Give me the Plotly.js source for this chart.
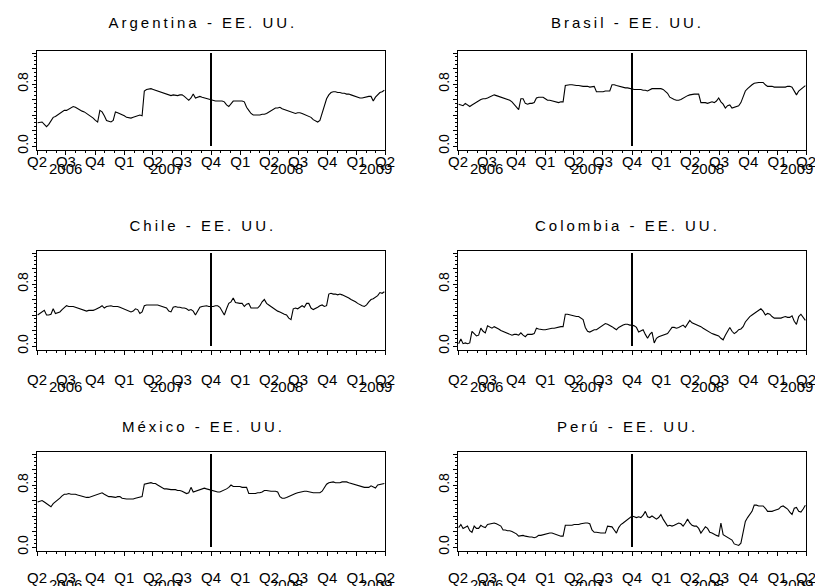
<!DOCTYPE html>
<html><head><meta charset="utf-8">
<script src="https://cdn.plot.ly/plotly-3.0.1.min.js"></script>
<style>html,body{margin:0;padding:0;background:#fff}#chart{width:815px;height:586px}</style>
</head><body><div id="chart"></div>
<script>
// ---------- DATA ----------
const dates = ["2006-04-03","2006-04-10","2006-04-17","2006-04-24","2006-05-01","2006-05-08","2006-05-15","2006-05-22","2006-05-29","2006-06-05","2006-06-12","2006-06-19","2006-06-26","2006-07-03","2006-07-10","2006-07-17","2006-07-24","2006-07-31","2006-08-07","2006-08-14","2006-08-21","2006-08-28","2006-09-04","2006-09-11","2006-09-18","2006-09-25","2006-10-02","2006-10-09","2006-10-16","2006-10-23","2006-10-30","2006-11-06","2006-11-13","2006-11-20","2006-11-27","2006-12-04","2006-12-11","2006-12-18","2006-12-25",
"2007-01-01","2007-01-08","2007-01-15","2007-01-22","2007-01-29","2007-02-05","2007-02-12","2007-02-19","2007-02-26","2007-03-05","2007-03-12","2007-03-19","2007-03-26","2007-04-02","2007-04-09","2007-04-16","2007-04-23","2007-04-30","2007-05-07","2007-05-14","2007-05-21","2007-05-28","2007-06-04","2007-06-11","2007-06-18","2007-06-25","2007-07-02","2007-07-09","2007-07-16","2007-07-23","2007-07-30","2007-08-06","2007-08-13","2007-08-20","2007-08-27","2007-09-03","2007-09-10","2007-09-17","2007-09-24","2007-10-01","2007-10-08","2007-10-15","2007-10-22","2007-10-29","2007-11-05","2007-11-12","2007-11-19","2007-11-26","2007-12-03","2007-12-10","2007-12-17","2007-12-24","2007-12-31",
"2008-01-07","2008-01-14","2008-01-21","2008-01-28","2008-02-04","2008-02-11","2008-02-18","2008-02-25","2008-03-03","2008-03-10","2008-03-17","2008-03-24","2008-03-31","2008-04-07","2008-04-14","2008-04-21","2008-04-28","2008-05-05","2008-05-12","2008-05-19","2008-05-26","2008-06-02","2008-06-09","2008-06-16","2008-06-23","2008-06-30","2008-07-07","2008-07-14","2008-07-21","2008-07-28","2008-08-04","2008-08-11","2008-08-18","2008-08-25","2008-09-01","2008-09-08","2008-09-15","2008-09-22","2008-09-29","2008-10-06","2008-10-13","2008-10-20","2008-10-27","2008-11-03","2008-11-10","2008-11-17","2008-11-24","2008-12-01","2008-12-08","2008-12-15","2008-12-22","2008-12-29",
"2009-01-05","2009-01-12","2009-01-19","2009-01-26","2009-02-02","2009-02-09","2009-02-16","2009-02-23","2009-03-02","2009-03-09","2009-03-16","2009-03-23","2009-03-30"];

const argentina = [0.30,0.31,0.31,0.28,0.25,0.28,0.33,0.37,0.38,0.40,0.42,0.44,0.46,
0.46,0.48,0.49,0.51,0.50,0.48,0.46,0.45,0.44,0.42,0.41,0.38,0.36,
0.33,0.31,0.46,0.44,0.39,0.33,0.32,0.31,0.33,0.44,0.43,0.42,0.40,
0.39,0.37,0.36,0.36,0.37,0.38,0.39,0.40,0.39,0.71,0.73,0.74,0.74,
0.73,0.72,0.71,0.70,0.69,0.68,0.67,0.66,0.65,0.66,0.65,0.65,0.66,
0.66,0.64,0.61,0.59,0.62,0.67,0.62,0.63,0.64,0.63,0.62,0.62,0.61,
0.60,0.59,0.58,0.58,0.58,0.58,0.57,0.53,0.51,0.55,0.58,0.58,0.58,
0.58,0.58,0.57,0.50,0.46,0.42,0.40,0.40,0.40,0.40,0.41,0.41,0.42,
0.44,0.46,0.48,0.49,0.49,0.50,0.48,0.47,0.46,0.45,0.44,0.43,0.42,
0.43,0.43,0.42,0.41,0.40,0.39,0.37,0.34,0.32,0.31,0.33,0.42,0.52,
0.61,0.66,0.69,0.70,0.70,0.69,0.69,0.68,0.68,0.67,0.67,0.66,0.65,
0.64,0.63,0.62,0.62,0.63,0.63,0.64,0.64,0.58,0.63,0.66,0.69,0.70,0.72];

const brasil = [0.54,0.53,0.52,0.55,0.53,0.51,0.53,0.55,0.56,0.58,0.60,0.61,0.61,
0.62,0.63,0.64,0.66,0.65,0.64,0.64,0.63,0.62,0.60,0.59,0.57,0.54,
0.50,0.47,0.61,0.61,0.55,0.54,0.55,0.55,0.56,0.62,0.63,0.63,0.63,
0.61,0.59,0.59,0.58,0.57,0.56,0.56,0.57,0.57,0.78,0.79,0.79,0.79,
0.78,0.78,0.78,0.77,0.77,0.77,0.77,0.76,0.77,0.77,0.70,0.70,0.70,
0.70,0.71,0.71,0.71,0.79,0.79,0.78,0.77,0.77,0.76,0.75,0.75,0.74,
0.73,0.73,0.73,0.73,0.73,0.72,0.72,0.71,0.73,0.74,0.74,0.74,0.74,
0.74,0.73,0.71,0.68,0.63,0.61,0.60,0.59,0.59,0.60,0.62,0.64,0.65,
0.66,0.67,0.67,0.67,0.67,0.56,0.56,0.56,0.55,0.56,0.57,0.56,0.58,
0.62,0.57,0.54,0.49,0.52,0.53,0.49,0.50,0.51,0.52,0.56,0.64,0.71,
0.74,0.77,0.79,0.81,0.82,0.82,0.82,0.82,0.79,0.77,0.77,0.77,0.76,
0.76,0.76,0.76,0.76,0.76,0.77,0.77,0.76,0.70,0.66,0.71,0.73,0.76,0.78];

const chile = [0.40,0.42,0.44,0.46,0.40,0.40,0.41,0.48,0.42,0.43,0.44,0.47,0.50,
0.52,0.51,0.51,0.51,0.50,0.49,0.48,0.47,0.46,0.45,0.46,0.46,0.46,
0.47,0.48,0.50,0.52,0.49,0.51,0.52,0.52,0.51,0.51,0.51,0.50,0.49,
0.48,0.47,0.46,0.44,0.45,0.48,0.47,0.42,0.44,0.52,0.53,0.53,0.53,
0.53,0.53,0.53,0.52,0.51,0.50,0.49,0.45,0.44,0.50,0.51,0.50,0.50,
0.49,0.49,0.48,0.46,0.47,0.45,0.40,0.46,0.50,0.51,0.52,0.52,0.51,
0.51,0.51,0.52,0.52,0.50,0.44,0.40,0.48,0.55,0.57,0.62,0.56,0.55,
0.55,0.55,0.51,0.54,0.55,0.49,0.49,0.49,0.49,0.52,0.57,0.60,0.55,
0.53,0.51,0.49,0.46,0.45,0.44,0.42,0.41,0.40,0.36,0.34,0.48,0.49,
0.48,0.50,0.52,0.50,0.55,0.55,0.49,0.47,0.48,0.50,0.52,0.53,0.51,
0.52,0.67,0.68,0.67,0.67,0.66,0.67,0.66,0.65,0.63,0.62,0.60,0.59,
0.57,0.55,0.53,0.52,0.51,0.53,0.57,0.60,0.61,0.63,0.65,0.69,0.68,0.70];

const colombia = [0.03,0.09,0.03,0.04,0.03,0.04,0.19,0.16,0.13,0.14,0.23,0.19,0.17,
0.26,0.24,0.23,0.25,0.24,0.22,0.20,0.19,0.18,0.17,0.15,0.14,0.15,
0.15,0.14,0.17,0.14,0.12,0.15,0.15,0.15,0.16,0.23,0.22,0.21,0.21,
0.21,0.22,0.22,0.23,0.23,0.24,0.24,0.25,0.25,0.41,0.41,0.40,0.40,
0.39,0.38,0.38,0.36,0.34,0.24,0.19,0.18,0.20,0.21,0.21,0.23,0.25,
0.27,0.29,0.28,0.27,0.25,0.23,0.21,0.24,0.26,0.27,0.28,0.28,0.27,
0.27,0.26,0.24,0.18,0.20,0.21,0.15,0.10,0.15,0.18,0.04,0.10,0.12,
0.13,0.14,0.15,0.16,0.20,0.24,0.24,0.23,0.24,0.26,0.27,0.24,0.28,
0.33,0.30,0.29,0.28,0.27,0.25,0.23,0.21,0.19,0.17,0.16,0.15,0.14,
0.13,0.10,0.08,0.14,0.20,0.24,0.19,0.16,0.18,0.21,0.22,0.25,0.31,
0.35,0.38,0.40,0.42,0.44,0.46,0.48,0.45,0.40,0.42,0.41,0.38,0.36,
0.36,0.36,0.36,0.37,0.38,0.37,0.37,0.39,0.32,0.28,0.38,0.41,0.37,0.33];

const mexico = [0.58,0.59,0.60,0.58,0.56,0.53,0.52,0.56,0.58,0.61,0.63,0.66,0.68,
0.68,0.69,0.68,0.68,0.68,0.67,0.66,0.66,0.65,0.64,0.64,0.65,0.66,
0.66,0.68,0.69,0.70,0.68,0.66,0.65,0.65,0.64,0.64,0.65,0.65,0.63,
0.62,0.62,0.62,0.62,0.62,0.63,0.64,0.64,0.65,0.81,0.82,0.83,0.83,
0.82,0.82,0.80,0.78,0.76,0.75,0.75,0.74,0.74,0.74,0.74,0.73,0.73,
0.72,0.71,0.69,0.70,0.77,0.71,0.72,0.73,0.74,0.75,0.76,0.75,0.74,
0.73,0.72,0.72,0.71,0.71,0.72,0.73,0.75,0.77,0.80,0.78,0.78,0.78,
0.78,0.77,0.77,0.77,0.69,0.69,0.69,0.69,0.70,0.70,0.71,0.73,0.73,
0.72,0.72,0.72,0.72,0.71,0.65,0.63,0.63,0.64,0.65,0.67,0.68,0.69,
0.70,0.71,0.71,0.72,0.72,0.71,0.71,0.70,0.70,0.70,0.70,0.72,0.77,
0.81,0.83,0.84,0.84,0.83,0.83,0.83,0.84,0.84,0.84,0.83,0.82,0.82,
0.81,0.80,0.79,0.78,0.77,0.77,0.77,0.79,0.77,0.76,0.80,0.81,0.81,0.82];

const peru = [0.25,0.29,0.24,0.25,0.27,0.21,0.19,0.27,0.24,0.24,0.28,0.26,0.25,
0.29,0.30,0.31,0.31,0.30,0.29,0.27,0.22,0.22,0.21,0.21,0.20,0.19,
0.17,0.14,0.15,0.15,0.14,0.13,0.13,0.13,0.12,0.13,0.15,0.15,0.16,
0.16,0.17,0.18,0.18,0.17,0.16,0.15,0.14,0.14,0.28,0.28,0.28,0.28,
0.29,0.29,0.29,0.30,0.31,0.31,0.31,0.30,0.22,0.19,0.19,0.18,0.18,
0.18,0.18,0.27,0.26,0.26,0.22,0.18,0.25,0.29,0.31,0.33,0.36,0.38,
0.40,0.39,0.38,0.39,0.38,0.41,0.46,0.39,0.38,0.40,0.38,0.36,0.38,
0.42,0.36,0.32,0.27,0.28,0.27,0.28,0.30,0.31,0.30,0.27,0.31,0.36,
0.31,0.28,0.27,0.27,0.24,0.18,0.22,0.26,0.24,0.19,0.18,0.16,0.15,
0.14,0.31,0.16,0.14,0.13,0.11,0.09,0.04,0.03,0.02,0.05,0.20,0.33,
0.38,0.42,0.46,0.54,0.54,0.53,0.53,0.53,0.50,0.46,0.46,0.46,0.47,
0.48,0.49,0.52,0.53,0.51,0.49,0.45,0.42,0.50,0.51,0.46,0.45,0.49,0.54];

const countryNames = ["Argentina","Brasil","Chile","Colombia","México","Perú"];
const titleSuffix = " - EE. UU.";
const seriesValues = [argentina, brasil, chile, colombia, mexico, peru];

const quarterTicks = ["2006-04-01","2006-07-01","2006-10-01","2007-01-01","2007-04-01","2007-07-01","2007-10-01","2008-01-01","2008-04-01","2008-07-01","2008-10-01","2009-01-01","2009-04-01"];
const quarterLabels = ["Q2","Q3","Q4","Q1","Q2","Q3","Q4","Q1","Q2","Q3","Q4","Q1","Q2"];
const yearLabels = ["2006","2007","2008","2009"];
const yearPositions = ["2006-07-01","2007-05-15","2008-05-25","2009-03-01"];
const yTickVals = [0, 0.2, 0.4, 0.6, 0.8, 1.0, 1.2];
const yTickText = ["0.0", "", "", "", "0.8", "", ""];
const breakDate = "2007-10-01";
const breakSpan = [0, 1.2];

// ---------- LAYOUT ----------
const W = 815, H = 586;
const FONT = "Liberation Sans, Arial, Helvetica, sans-serif";
const colPx = [[37, 385], [458, 806]];
const rowPx = [[51, 149.5], [251, 349.5], [452, 550.5]];
const titleX = [203, 627];
const titleY = [22, 226, 426];
const qStandoff = [-6, 12, 9];
const yearShift = [19, 37, 34];

const data = [];
const layout = {
  width: W, height: H, margin: {l: 0, r: 0, t: 0, b: 0},
  paper_bgcolor: "#fff", plot_bgcolor: "#fff", showlegend: false,
  font: {family: FONT, size: 15, color: "#000"},
  annotations: []
};

for (let i = 0; i < 6; i++) {
  const r = Math.floor(i / 2), c = i % 2, n = i + 1;
  const xs = n === 1 ? "" : String(n);
  data.push({x: dates, y: seriesValues[i], type: "scatter", mode: "lines",
    line: {color: "#000", width: 1.1}, xaxis: "x" + xs, yaxis: "y" + xs, hoverinfo: "skip"});
  data.push({x: [breakDate, breakDate], y: breakSpan, type: "scatter", mode: "lines",
    line: {color: "#000", width: 2}, xaxis: "x" + xs, yaxis: "y" + xs, hoverinfo: "skip"});
  layout["xaxis" + xs] = {
    domain: [colPx[c][0] / W, colPx[c][1] / W], anchor: "y" + xs,
    type: "date", range: ["2006-04-01", "2009-04-01"],
    tickmode: "array", tickvals: quarterTicks, ticktext: quarterLabels,
    ticks: "outside", ticklen: 4, tickwidth: 1, tickcolor: "#000",
    minor: {tickmode: "linear", tick0: "2006-04-01", dtick: "M1", ticks: "outside", ticklen: 2, tickwidth: 1, tickcolor: "#000", showgrid: false},
    showline: true, mirror: true, linecolor: "#000", linewidth: 1,
    showgrid: false, zeroline: false, fixedrange: true,
    tickfont: {family: FONT, size: 15, color: "#000"},
    ticklabelstandoff: qStandoff[r], ticklabeloverflow: "allow"
  };
  layout["yaxis" + xs] = {
    domain: [1 - rowPx[r][1] / H, 1 - rowPx[r][0] / H], anchor: "x" + xs,
    range: [-0.045, 1.226], tickmode: "array", tickvals: yTickVals, ticktext: yTickText,
    tickangle: -90, ticks: "outside", ticklen: 4, tickwidth: 1, tickcolor: "#000",
    minor: {dtick: 0.05, ticks: "outside", ticklen: 2, tickwidth: 1, tickcolor: "#000", showgrid: false},
    showline: true, mirror: true, linecolor: "#000", linewidth: 1,
    showgrid: false, zeroline: false, fixedrange: true,
    tickfont: {family: FONT, size: 14, color: "#000"},
    ticklabelstandoff: -2
  };
  layout.annotations.push({
    text: countryNames[i] + titleSuffix, xref: "paper", yref: "paper",
    x: titleX[c] / W, y: 1 - titleY[r] / H, xanchor: "center", yanchor: "middle",
    showarrow: false, font: {family: FONT, size: 15, color: "#000"}
  });
  for (let k = 0; k < yearLabels.length; k++) {
    layout.annotations.push({
      text: yearLabels[k], xref: "x" + xs, yref: "y" + xs + " domain",
      x: yearPositions[k], y: 0, xanchor: "center", yanchor: "middle", yshift: -yearShift[r],
      showarrow: false, font: {family: FONT, size: 15, color: "#000"}
    });
  }
}

Plotly.newPlot("chart", data, layout, {staticPlot: true, displayModeBar: false}).then(function (gd) {
  gd.querySelectorAll(".annotation-text").forEach(function (t) {
    if (t.textContent.indexOf("EE.") >= 0) t.style.letterSpacing = "3px";
  });
});
</script>
</body></html>
